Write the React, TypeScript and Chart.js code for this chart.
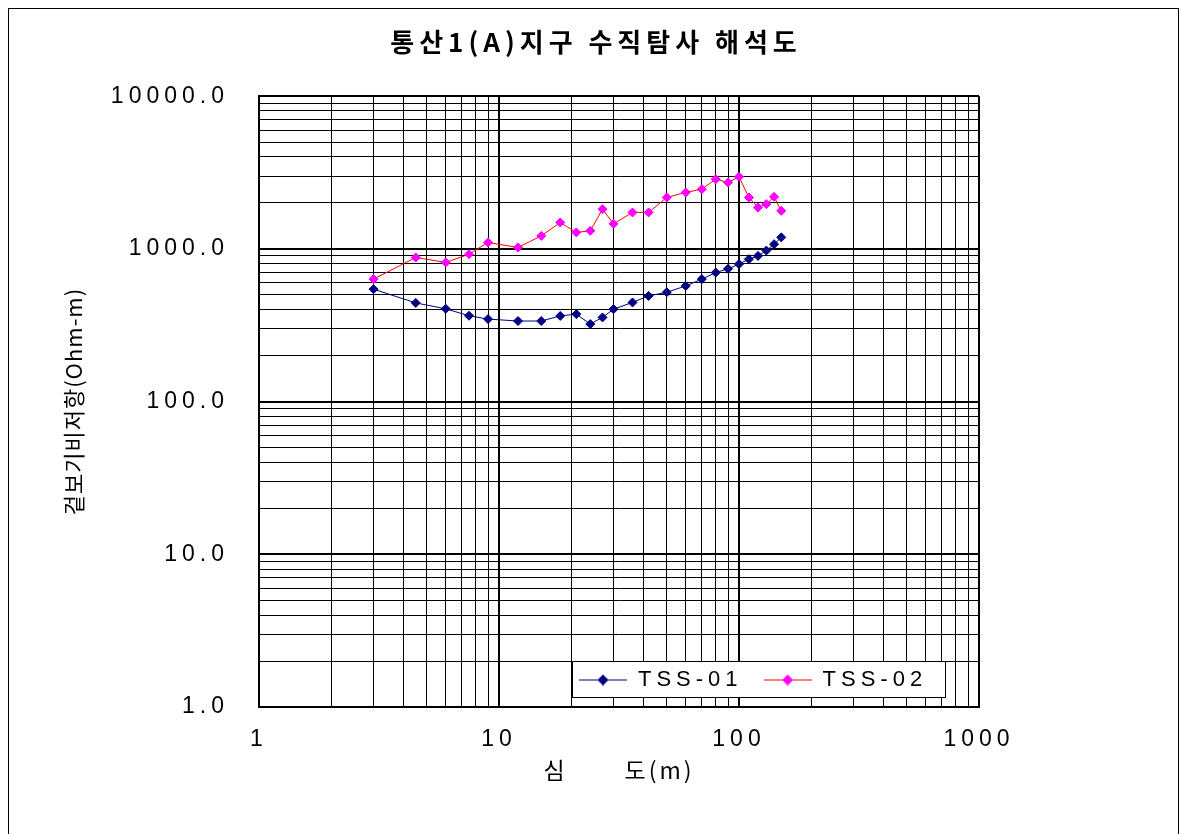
import React, { useEffect, useRef } from 'react';
import { Chart, registerables } from 'chart.js';

Chart.register(...registerables);

// ---------- data ----------
const TITLE = '통산1(A)지구 수직탐사 해석도';
const X_TITLE = '심       도(m)';
const Y_TITLE = '겉보기비저항(Ohm-m)';
const SERIES_NAMES = ['TSS-01', 'TSS-02'];
const DEPTHS = [3, 4.5, 6, 7.5, 9, 12, 15, 18, 21, 24, 27, 30, 36, 42, 50, 60, 70, 80, 90, 100, 110, 120, 130, 140, 150];
const TSS01 = [545, 443, 405, 365, 347, 337, 337, 364, 374, 322, 356, 403, 446, 492, 520, 572, 634, 700, 740, 795, 857, 900, 975, 1074, 1190];
const TSS02 = [634, 879, 815, 924, 1102, 1022, 1217, 1490, 1282, 1313, 1820, 1460, 1733, 1733, 2172, 2343, 2461, 2863, 2723, 2963, 2172, 1868, 1963, 2192, 1775];
const X_DECADES = [1, 10, 100, 1000];
const X_TICK_LABELS = ['1', '10', '100', '1000'];
const Y_DECADES = [1, 10, 100, 1000, 10000];
const Y_TICK_LABELS = ['1.0', '10.0', '100.0', '1000.0', '10000.0'];
const MINOR_STEPS = [1, 2, 3, 4, 5, 6, 7, 8, 9];
const LINE_COLORS = ['#000080', '#FF0000'];
const POINT_COLORS = ['#000080', '#FF00FF'];

function gridValues(decades: number[]) {
  const out: number[] = [];
  decades.forEach((d, i) => {
    if (i === decades.length - 1) out.push(d);
    else MINOR_STEPS.forEach((m) => out.push(d * m));
  });
  return out;
}
const X_GRID = gridValues(X_DECADES);
const Y_GRID = gridValues(Y_DECADES);

function makeIcon(lineColor: string, pointColor: string) {
  const c = document.createElement('canvas');
  c.width = 48;
  c.height = 12;
  const g = c.getContext('2d')!;
  g.strokeStyle = lineColor;
  g.lineWidth = 1;
  g.beginPath();
  g.moveTo(0, 6.5);
  g.lineTo(48, 6.5);
  g.stroke();
  g.fillStyle = pointColor;
  g.beginPath();
  g.moveTo(24, 1);
  g.lineTo(29.5, 6.5);
  g.lineTo(24, 12);
  g.lineTo(18.5, 6.5);
  g.closePath();
  g.fill();
  return c;
}

const LETTER_SPACING = '5px';
const AXIS_TITLE_SPACING: Record<string, string> = { x: '3px', y: '1px' };

const layoutPlugin = {
  id: 'layoutTweaks',
  beforeLayout(chart: any) {
    chart.ctx.letterSpacing = LETTER_SPACING;
    const lg = chart.legend;
    if (lg && !lg.__patched) {
      lg.__patched = true;
      const fit = lg.fit;
      lg.fit = function () {
        fit.call(this);
        this.height = 0;
      };
      const draw = lg.draw;
      lg.draw = function (area: any) {
        const ctx = this.ctx;
        ctx.save();
        ctx.fillStyle = '#fff';
        ctx.fillRect(572, 661, 373, 36);
        ctx.strokeStyle = '#000';
        ctx.lineWidth = 1;
        ctx.strokeRect(572.5, 661.5, 373, 36);
        ctx.restore();
        draw.call(this, area);
      };
    }
  },
  afterLayout(chart: any) {
    const lg = chart.legend;
    if (lg) {
      lg.left = 558;
      lg.right = 990;
      lg.top = 647.5;
      lg.bottom = 710;
      lg.width = lg.right - lg.left;
      lg.height = lg.bottom - lg.top;
    }
    const tb = chart.titleBlock;
    if (tb) {
      tb.left = 0;
      tb.right = 1192;
      tb.width = 1192;
    }
    Object.keys(AXIS_TITLE_SPACING).forEach((id) => {
      const s = chart.scales[id];
      if (s && !s.__patched) {
        s.__patched = true;
        const orig = s.drawTitle;
        s.drawTitle = function () {
          const c = this.ctx;
          const prev = c.letterSpacing;
          c.letterSpacing = AXIS_TITLE_SPACING[id];
          orig.call(this);
          c.letterSpacing = prev;
        };
      }
    });
  },
  beforeDraw(chart: any) {
    const ctx = chart.ctx;
    ctx.save();
    ctx.fillStyle = '#fff';
    ctx.fillRect(0, 0, chart.width, chart.height);
    ctx.strokeStyle = '#000';
    ctx.lineWidth = 1;
    ctx.strokeRect(8.5, 8.5, 1170, 840);
    ctx.restore();
    ctx.letterSpacing = LETTER_SPACING;
  },
};

const isDecade = (v: number, decades: number[]) => decades.indexOf(v) >= 0;

export default function App() {
  const ref = useRef<HTMLCanvasElement>(null);
  useEffect(() => {
    const canvas = ref.current!;
    const icons = [makeIcon(LINE_COLORS[0], POINT_COLORS[0]), makeIcon(LINE_COLORS[1], POINT_COLORS[1])];
    const series = [TSS01, TSS02];
    const chart = new Chart(canvas, {
      type: 'line',
      data: {
        datasets: series.map((vals, i) => ({
          label: SERIES_NAMES[i],
          data: DEPTHS.map((d, j) => ({ x: d, y: vals[j] })),
          borderColor: LINE_COLORS[i],
          backgroundColor: POINT_COLORS[i],
          borderWidth: 1,
          pointStyle: 'rectRot',
          pointRadius: 4.5,
          pointBorderWidth: 1,
          pointBackgroundColor: POINT_COLORS[i],
          pointBorderColor: POINT_COLORS[i],
          tension: 0,
          fill: false,
        })),
      },
      options: {
        responsive: false,
        animation: false,
        devicePixelRatio: 1,
        events: [],
        layout: { padding: { left: 59, right: 202, top: 0, bottom: 47 } },
        plugins: {
          title: {
            display: true,
            text: TITLE,
            color: '#000',
            font: { family: 'Noto Sans CJK KR', size: 26, weight: 'bold', lineHeight: 1.2 },
            padding: { top: 27, bottom: 38 },
          },
          legend: {
            display: true,
            position: 'bottom',
            align: 'start',
            labels: {
              usePointStyle: true,
              pointStyleWidth: 48,
              padding: 21,
              color: '#000',
              font: { family: 'Liberation Sans', size: 22 },
              generateLabels: (c: any) => {
                const items = (Chart.defaults as any).plugins.legend.labels.generateLabels(c);
                return items.map((it: any, i: number) => ({ ...it, pointStyle: icons[i] }));
              },
            },
          },
          tooltip: { enabled: false },
        },
        scales: {
          x: {
            type: 'logarithmic',
            min: 1,
            max: 1000,
            position: 'bottom',
            afterBuildTicks: (s: any) => {
              s.ticks = X_GRID.map((v) => ({ value: v }));
            },
            afterFit: (s: any) => {
              s.height = 80;
            },
            ticks: {
              autoSkip: false,
              maxRotation: 0,
              minRotation: 0,
              padding: 19,
              color: '#000',
              font: { family: 'Liberation Sans', size: 23 },
              callback: (v: any) => {
                const i = X_DECADES.indexOf(Number(v));
                return i >= 0 ? X_TICK_LABELS[i] : '';
              },
            },
            grid: {
              drawTicks: false,
              color: '#000',
              lineWidth: (ctx: any) => (ctx.tick && isDecade(ctx.tick.value, X_DECADES) ? 2 : 1),
            },
            border: { color: '#000', width: 2 },
            title: {
              display: true,
              text: X_TITLE,
              color: '#000',
              font: { family: 'Noto Sans CJK KR', size: 23, lineHeight: 1.2 },
              padding: { top: 0, bottom: 3 },
            },
          },
          y: {
            type: 'logarithmic',
            min: 1,
            max: 10000,
            position: 'left',
            afterBuildTicks: (s: any) => {
              s.ticks = Y_GRID.map((v) => ({ value: v }));
            },
            afterFit: (s: any) => {
              s.width = 200;
            },
            ticks: {
              autoSkip: false,
              padding: 30,
              color: '#000',
              font: { family: 'Liberation Sans', size: 23 },
              callback: (v: any) => {
                const i = Y_DECADES.indexOf(Number(v));
                return i >= 0 ? Y_TICK_LABELS[i] : '';
              },
            },
            grid: {
              drawTicks: false,
              color: '#000',
              lineWidth: (ctx: any) => (ctx.tick && isDecade(ctx.tick.value, Y_DECADES) ? 2 : 1),
            },
            border: { color: '#000', width: 2 },
            title: {
              display: true,
              text: Y_TITLE,
              color: '#000',
              font: { family: 'Noto Sans CJK KR', size: 22, lineHeight: 1.2 },
              padding: { top: 1, bottom: 0 },
            },
          },
        },
      } as any,
      plugins: [layoutPlugin as any],
    });
    return () => chart.destroy();
  }, []);
  return (
    <div style={{ position: 'fixed', left: 0, top: 0, width: 1181, height: 834, background: '#fff' }}>
      <canvas ref={ref} width={1181} height={834} style={{ display: 'block' }} />
    </div>
  );
}
